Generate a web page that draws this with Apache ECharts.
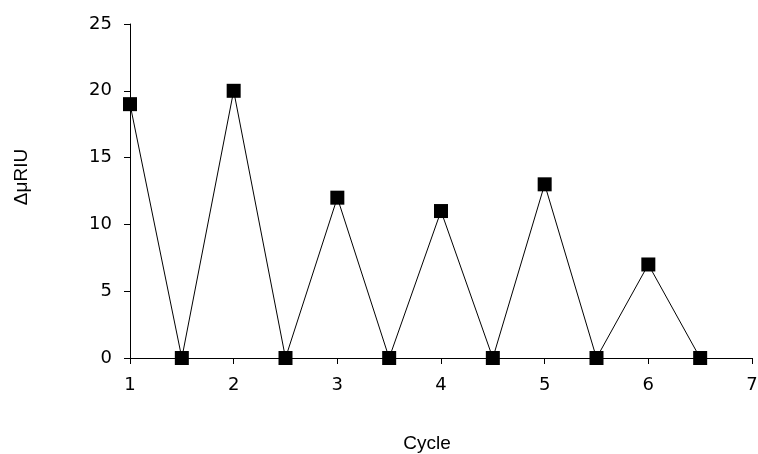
<!DOCTYPE html>
<html>
<head>
<meta charset="utf-8">
<script src="https://cdn.jsdelivr.net/npm/echarts@6/dist/echarts.min.js"></script>
<style>
  html, body { margin: 0; padding: 0; background: #fff; }
  #chart { width: 758px; height: 454px; }
</style>
</head>
<body>
<div id="chart"></div>
<script>
var cycles = [1, 1.5, 2, 2.5, 3, 3.5, 4, 4.5, 5, 5.5, 6, 6.5];
var deltaRIU = [19, 0, 20, 0, 12, 0, 11, 0, 13, 0, 7, 0];

var myChart = echarts.init(document.getElementById("chart"));
myChart.setOption({
  animation: false,
  grid: { left: 130, right: 6, top: 24, bottom: 96, outerBoundsMode: "none", containLabel: false },
  xAxis: {
    type: "value",
    min: 1,
    max: 7,
    interval: 1,
    name: "Cycle",
    nameLocation: "middle",
    nameGap: 76,
    nameTextStyle: { fontFamily: "Liberation Sans", fontSize: 19, color: "#000", padding: [0, 28, 0, 0] },
    axisLine: { show: true, onZero: false, lineStyle: { color: "#000", width: 1 } },
    axisTick: { show: true, length: 6, lineStyle: { color: "#000" } },
    axisLabel: { fontFamily: "DejaVu Sans", fontSize: 18, color: "#000", margin: 18 },
    splitLine: { show: false }
  },
  yAxis: {
    type: "value",
    min: 0,
    max: 25,
    interval: 5,
    name: "ΔμRIU",
    nameLocation: "middle",
    nameGap: 99,
    nameRotate: 90,
    nameTextStyle: { fontFamily: "Liberation Sans", fontSize: 19, color: "#000", padding: [0, 0, 0, 28] },
    axisLine: { show: true, lineStyle: { color: "#000", width: 1 } },
    axisTick: { show: true, length: 6, lineStyle: { color: "#000" } },
    axisLabel: { fontFamily: "DejaVu Sans", fontSize: 18, color: "#000", margin: 18 },
    splitLine: { show: false }
  },
  series: [
    {
      type: "line",
      data: cycles.map(function (c, i) { return [c, deltaRIU[i]]; }),
      symbol: "rect",
      symbolSize: 14,
      itemStyle: { color: "#000" },
      lineStyle: { color: "#000", width: 1 }
    }
  ]
});
</script>
</body>
</html>
